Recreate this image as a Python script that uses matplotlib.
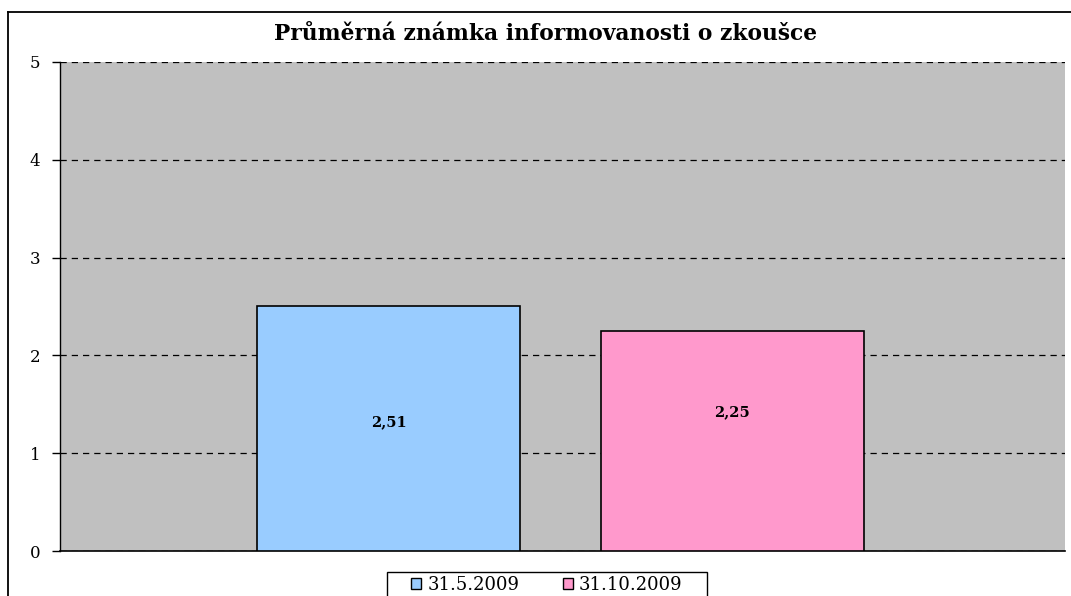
import matplotlib
matplotlib.use("Agg")
import matplotlib.pyplot as plt
from matplotlib.lines import Line2D
from matplotlib.patches import Patch, Rectangle

title = "Průměrná známka informovanosti o zkoušce"
series = ["31.5.2009", "31.10.2009"]
values = [2.51, 2.25]
value_labels = ["2,51", "2,25"]
label_y = [1.32, 1.42]
yticks = [0, 1, 2, 3, 4, 5]
colors = ["#99CCFF", "#FF99CC"]

W, H = 1071, 596
fig = plt.figure(figsize=(W / 100, H / 100), dpi=100)
fig.patch.set_facecolor("white")

serif = ["DejaVu Serif"]

ax = fig.add_axes([60 / W, 1 - 551 / H, (1065 - 60) / W, (551 - 62) / H])
ax.set_facecolor("#C0C0C0")

centers = [0.327, 0.669]
width = 0.262
for c, v, col, lab, ly in zip(centers, values, colors, value_labels, label_y):
    ax.bar(c, v, width=width, color=col, edgecolor="black", linewidth=1.2, zorder=3)
    ax.text(c, ly, lab, ha="center", va="center", fontsize=10.5,
            fontweight="bold", family=serif, zorder=4)

ax.set_xlim(0, 1)
ax.set_ylim(0, 5)
ax.set_yticks(yticks)
ax.set_yticklabels([str(t) for t in yticks], family=serif, fontsize=12)
ax.set_xticks([])
ax.tick_params(axis="y", length=6, width=1, direction="out", pad=8)
ax.yaxis.grid(True, linestyle=(0, (5, 4)), color="black", linewidth=0.9, zorder=1)
ax.set_axisbelow(True)
for s in ["top", "right"]:
    ax.spines[s].set_visible(False)
ax.spines["left"].set_color("black")
ax.spines["bottom"].set_color("black")
ax.spines["bottom"].set_linewidth(1.2)
ax.spines["left"].set_linewidth(1.0)

fig.text(545 / W, 1 - 34 / H, title, ha="center", va="center",
         fontsize=15.7, fontweight="bold", family=serif)

# outer chart frame (cut off at right/bottom)
fig.add_artist(Line2D([8 / W, 8 / W], [1 - 12 / H, 0], transform=fig.transFigure,
                      color="black", linewidth=1.3))
fig.add_artist(Line2D([8 / W, 1], [1 - 12 / H, 1 - 12 / H], transform=fig.transFigure,
                      color="black", linewidth=1.3))

# legend frame (cut off at the bottom)
fig.add_artist(Rectangle((387 / W, -0.02), (707 - 387) / W, (1 - 572 / H) + 0.02,
                         transform=fig.transFigure, facecolor="white",
                         edgecolor="black", linewidth=1.0))

handles = [Patch(facecolor=c, edgecolor="black", linewidth=1) for c in colors]
leg = fig.legend(handles, series, loc="center", ncol=2,
                 bbox_to_anchor=(547 / W, 1 - 585 / H), bbox_transform=fig.transFigure,
                 frameon=False, prop={"family": serif, "size": 13},
                 handlelength=0.55, handleheight=0.55, handletextpad=0.35,
                 columnspacing=2.4, borderpad=0, borderaxespad=0)

fig.savefig("out.png", dpi=100)
